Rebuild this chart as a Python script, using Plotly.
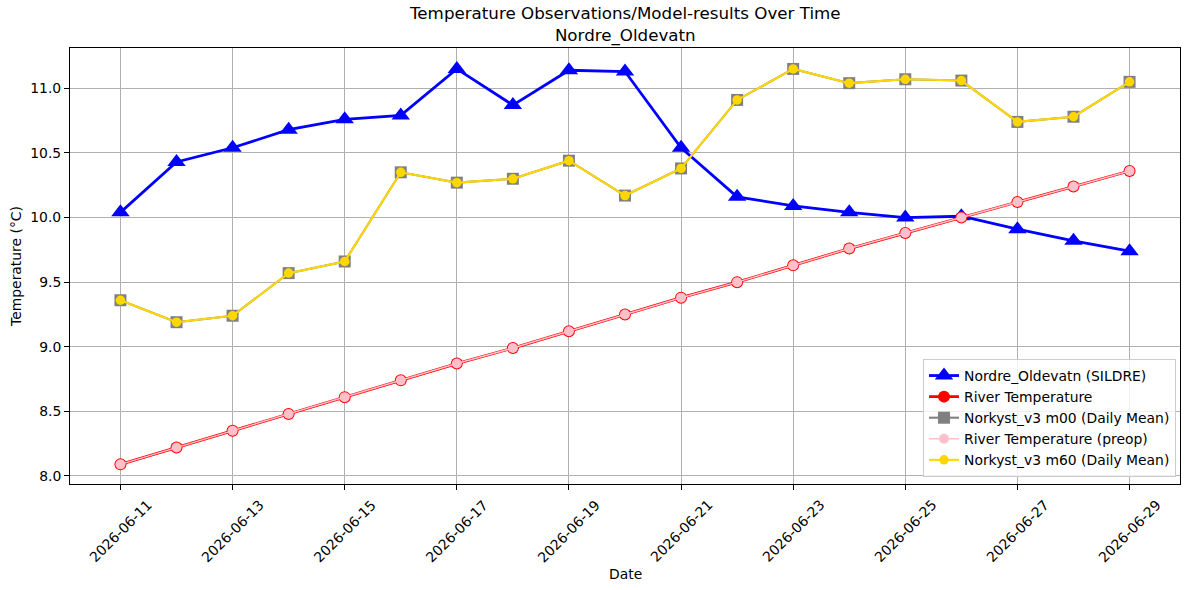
import plotly.graph_objects as go

dates = ["2026-06-11", "2026-06-12", "2026-06-13", "2026-06-14", "2026-06-15",
         "2026-06-16", "2026-06-17", "2026-06-18", "2026-06-19", "2026-06-20",
         "2026-06-21", "2026-06-22", "2026-06-23", "2026-06-24", "2026-06-25",
         "2026-06-26", "2026-06-27", "2026-06-28", "2026-06-29"]

sildre = [10.04, 10.43, 10.54, 10.68, 10.76, 10.79, 11.15, 10.87, 11.14, 11.13,
          10.54, 10.16, 10.09, 10.04, 10.00, 10.01, 9.91, 9.82, 9.74]

river = [8.09, 8.22, 8.35, 8.48, 8.61, 8.74, 8.87, 8.99, 9.12, 9.25,
         9.38, 9.50, 9.63, 9.76, 9.88, 10.00, 10.12, 10.24, 10.36]

river_preop = [8.09, 8.22, 8.35, 8.48, 8.61, 8.74, 8.87, 8.99, 9.12, 9.25,
               9.38, 9.50, 9.63, 9.76, 9.88, 10.00, 10.12, 10.24, 10.36]

m00 = [9.36, 9.19, 9.24, 9.57, 9.66, 10.35, 10.27, 10.30, 10.44, 10.17,
       10.38, 10.91, 11.15, 11.04, 11.07, 11.06, 10.74, 10.78, 11.05]

m60 = [9.36, 9.19, 9.24, 9.57, 9.66, 10.35, 10.27, 10.30, 10.44, 10.17,
       10.38, 10.91, 11.15, 11.04, 11.07, 11.06, 10.74, 10.78, 11.05]

tick_dates = ["2026-06-11", "2026-06-13", "2026-06-15", "2026-06-17", "2026-06-19",
              "2026-06-21", "2026-06-23", "2026-06-25", "2026-06-27", "2026-06-29"]

y_ticks = [8.0, 8.5, 9.0, 9.5, 10.0, 10.5, 11.0]

FONT = "DejaVu Sans"

fig = go.Figure()
fig.add_trace(go.Scatter(
    x=dates, y=sildre, mode="lines+markers", name="Nordre_Oldevatn (SILDRE)",
    line=dict(color="blue", width=2.8),
    marker=dict(symbol="triangle-up", size=16, color="blue")))
fig.add_trace(go.Scatter(
    x=dates, y=river, mode="lines+markers", name="River Temperature",
    line=dict(color="red", width=2.8),
    marker=dict(symbol="circle", size=12, color="red")))
fig.add_trace(go.Scatter(
    x=dates, y=m00, mode="lines+markers", name="Norkyst_v3 m00 (Daily Mean)",
    line=dict(color="gray", width=2.1),
    marker=dict(symbol="square", size=12, color="gray")))
fig.add_trace(go.Scatter(
    x=dates, y=river_preop, mode="lines+markers", name="River Temperature (preop)",
    line=dict(color="pink", width=1.5),
    marker=dict(symbol="circle", size=10, color="pink")))
fig.add_trace(go.Scatter(
    x=dates, y=m60, mode="lines+markers", name="Norkyst_v3 m60 (Daily Mean)",
    line=dict(color="gold", width=2.1),
    marker=dict(symbol="circle", size=9.5, color="gold")))

annotations = []
for d in tick_dates:
    annotations.append(dict(
        x=d, y=-0.022, xref="x", yref="paper", text=d, showarrow=False,
        textangle=-45, xanchor="center", yanchor="top",
        font=dict(family=FONT, size=13.9, color="black")))
annotations.append(dict(
    x=0.5, y=-0.183, xref="paper", yref="paper", text="Date", showarrow=False,
    xanchor="center", yanchor="top", font=dict(family=FONT, size=13.9, color="black")))
annotations.append(dict(
    x=0.5, y=1, xref="paper", yref="paper",
    text="Temperature Observations/Model-results Over Time<br>Nordre_Oldevatn",
    showarrow=False, xanchor="center", yanchor="bottom", yshift=0,
    font=dict(family=FONT, size=16.7, color="black")))

fig.update_layout(
    width=1189, height=590,
    margin=dict(l=70, r=9, t=48, b=106),
    paper_bgcolor="white", plot_bgcolor="white",
    font=dict(family=FONT, size=13.9, color="black"),
    showlegend=True,
    legend=dict(x=0.9964, y=0.016, xanchor="right", yanchor="bottom",
                bgcolor="rgba(255,255,255,0.8)", bordercolor="#cccccc", borderwidth=1,
                font=dict(family=FONT, size=13.9, color="black")),
    annotations=annotations,
    xaxis=dict(
        type="date", range=["2026-06-10 02:24", "2026-06-29 21:36"],
        tickvals=tick_dates, showticklabels=False,
        ticks="outside", ticklen=5, tickwidth=1, tickcolor="black",
        showgrid=True, gridcolor="#b0b0b0", gridwidth=1.1,
        showline=True, linecolor="black", linewidth=1, mirror=True, zeroline=False),
    yaxis=dict(
        range=[7.938, 11.312], tickvals=y_ticks, tickformat=".1f",
        ticks="outside", ticklen=5, tickwidth=1, tickcolor="black",
        showgrid=True, gridcolor="#b0b0b0", gridwidth=1.1,
        showline=True, linecolor="black", linewidth=1, mirror=True, zeroline=False,
        title=dict(text="Temperature (°C)", standoff=5,
                   font=dict(family=FONT, size=13.9, color="black")),
        automargin=False),
)

fig.write_html("out.html")
